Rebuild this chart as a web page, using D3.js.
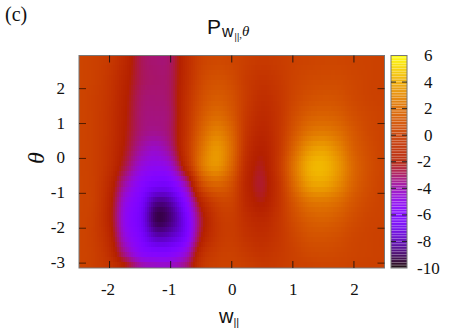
<!DOCTYPE html>
<html><head><meta charset="utf-8">
<script src="https://cdn.jsdelivr.net/npm/d3@7"></script>
<style>html,body{margin:0;padding:0;background:#fff}svg{display:block}
svg text.serif, svg tspan.serif{font-family:'Times New Roman','Liberation Serif',Tinos,Times,serif}
svg text.sans, svg tspan.sans{font-family:'Liberation Sans',Arial,sans-serif}
</style>
</head><body><svg id="c" width="463" height="330"></svg>
<script>
const wValues=[-2.5,-2.25,-2,-1.75,-1.5,-1.25,-1,-0.75,-0.5,-0.25,0,0.25,0.5,0.75,1,1.25,1.5,1.75,2,2.25,2.5];
const thetaValues=[2.95,2.25,1.75,1.25,0.75,0.25,-0.25,-0.75,-1.25,-1.75,-2.25,-2.75,-3.14];
const row295=[.3,.1,-.3,-1.3,-2.8,-3.2,-3,-1.2,.1,.4,.3,0,-.2,-.1,.1,.2,.3,.3,.2,.2,.1];
const row225=[.3,.1,-.5,-1.6,-2.8,-3.1,-2.9,-1.1,.4,.9,.6,-.2,-.6,-.3,.2,.5,.6,.6,.4,.2,.1];
const row175=[.3,0,-.6,-1.8,-3,-3.2,-2.9,-.9,.7,1.3,.9,-.2,-.9,-.5,.3,.8,1,.9,.5,.2,.1];
const row125=[.3,0,-.7,-1.9,-3.1,-3.3,-3,-.8,1.1,1.9,1.2,-.4,-1.2,-.6,.6,1.4,1.6,1.4,.8,.4,.2];
const row075=[.3,0,-.7,-2,-3.2,-3.5,-3,-.7,1.6,2.7,1.7,-.6,-1.5,-.6,1,2.2,2.5,2.1,1.2,.5,.2];
const row025=[.3,0,-.8,-2.2,-3.7,-4.3,-3.4,-.6,2.1,3.4,2,-.9,-1.9,-.6,1.6,3.3,3.7,2.9,1.5,.7,.2];
const rowM025=[.3,0,-.9,-2.7,-4.5,-5.1,-4.5,-1.3,2.2,3.3,1.7,-1.3,-2.2,-.5,2.1,4,4.3,3.4,1.8,.8,.3];
const rowM075=[.3,0,-1.3,-3.8,-5.5,-6.4,-6.2,-3.8,.5,1.7,.8,-1.6,-2.4,-.8,1.7,3.5,3.8,3,1.6,.7,.2];
const rowM125=[.3,0,-1.6,-4.7,-6.2,-8.4,-8.1,-5.6,-1.6,.1,.2,-1.4,-2.1,-.8,1,2.2,2.4,2,1.1,.5,.2];
const rowM175=[.3,-.1,-1.7,-5,-6.5,-9.1,-8.7,-6.5,-2.6,-.5,-.1,-1,-1.4,-.6,.6,1.4,1.6,1.3,.7,.3,.2];
const rowM225=[.3,-.1,-1.4,-4.6,-6.1,-7.9,-7.7,-6.2,-2.2,-.5,-.1,-.7,-1,-.5,.3,.9,1,.8,.4,.2,.1];
const rowM275=[.3,0,-1,-3.5,-5.3,-5.8,-5.7,-4.5,-1.1,-.1,.1,-.3,-.6,-.3,.1,.5,.6,.5,.3,.2,.1];
const rowM314=[.3,0,-.6,-1.9,-3.6,-4.1,-4.1,-3.2,-.6,.1,.2,0,-.3,-.2,.1,.2,.3,.3,.2,.1,.1];
const zRows=[row295,row225,row175,row125,row075,row025,rowM025,rowM075,rowM125,rowM175,rowM225,rowM275,rowM314];
const xTicks=[-2,-1,0,1,2];
const yTicks=[-3,-2,-1,0,1,2];
const cbTicks=[6,4,2,0,-2,-4,-6,-8,-10];

const L=79,R=384.5,T=55.5,B=268;
const svg=d3.select("#c");
const x=d3.scaleLinear().domain([-2.5,2.5]).range([L,R]);
const y=d3.scaleLinear().domain([-3.14,2.95]).range([B,T]);
const cb=d3.scaleLinear().domain([-10,6]).range([B,T]);
const palette=t=>{const c=v=>Math.round(255*Math.max(0,Math.min(1,v)));
  return `rgb(${c(Math.sqrt(t))},${c(t*t*t)},${c(Math.sin(2*Math.PI*t))})`;};
const color=d3.scaleSequential(palette).domain([-10,6]).clamp(true);

const ix=d3.scaleLinear().domain(wValues).range(wValues.map((_,i)=>i)).clamp(true);
const iy=d3.scaleLinear().domain(thetaValues).range(thetaValues.map((_,i)=>i)).clamp(true);
const cr=(a,b,c,d,t)=>0.5*(2*b+(c-a)*t+(2*a-5*b+4*c-d)*t*t+(3*b-a-3*c+d)*t*t*t);
const at=(arr,i)=>arr[Math.max(0,Math.min(arr.length-1,i))];
function sample(w,th){
  const fx=ix(w),fy=iy(th),i=Math.min(Math.floor(fx),wValues.length-2),j=Math.min(Math.floor(fy),thetaValues.length-2);
  const r=k=>{const row=at(zRows,k);return cr(at(row,i-1),at(row,i),at(row,i+1),at(row,i+2),fx-i);};
  return cr(r(j-1),r(j),r(j+1),r(j+2),fy-j);
}
const colW=2,nCols=Math.ceil((R-L)/colW),nRows=42;
const rowH=(B-T)/nRows;
const cells=[];
for(let r=0;r<nRows;r++)for(let c=0;c<nCols;c++){
  const px=L+c*colW,py=T+r*rowH;
  cells.push({px,py,w:x.invert(px+colW/2),t:y.invert(py+rowH/2)});
}
svg.append("g").attr("shape-rendering","crispEdges").selectAll("rect").data(cells).join("rect")
  .attr("x",d=>d.px).attr("y",d=>Math.floor(d.py))
  .attr("width",d=>Math.min(colW,R-d.px)).attr("height",d=>Math.min(Math.ceil(rowH)+1,B-Math.floor(d.py)))
  .attr("fill",d=>color(sample(d.w,d.t)));

const bx0=391,bx1=407,nStrips=80;
const strips=d3.range(nStrips).map(i=>-10+(i+0.5)*16/nStrips);
svg.append("g").selectAll("rect").data(strips).join("rect")
  .attr("x",bx0).attr("width",bx1-bx0)
  .attr("y",d=>cb(d)-(B-T)/nStrips/2).attr("height",(B-T)/nStrips*0.8)
  .attr("fill",d=>color(d)).attr("fill-opacity",0.93);
svg.append("g").selectAll("rect").data(strips).join("rect")
  .attr("x",bx0).attr("width",bx1-bx0)
  .attr("y",d=>cb(d)+(B-T)/nStrips*0.3).attr("height",(B-T)/nStrips*0.2)
  .attr("fill",d=>color(d)).attr("fill-opacity",0.7);

const frame=(a,b)=>svg.append("rect").attr("x",a).attr("y",T).attr("width",b-a).attr("height",B-T)
  .attr("fill","none").attr("stroke","#777").attr("stroke-width",1);
frame(L,R);frame(bx0,bx1);

const tick=svg.append("g").attr("stroke","#111").attr("stroke-width",1).attr("stroke-opacity",.85);
xTicks.forEach(v=>{
  tick.append("line").attr("x1",x(v)).attr("x2",x(v)).attr("y1",B).attr("y2",B-7);
  tick.append("line").attr("x1",x(v)).attr("x2",x(v)).attr("y1",T).attr("y2",T+7);
});
yTicks.forEach(v=>{
  tick.append("line").attr("x1",L).attr("x2",L+7).attr("y1",y(v)).attr("y2",y(v)).attr("stroke","#3a1500");
  tick.append("line").attr("x1",R).attr("x2",R-7).attr("y1",y(v)).attr("y2",y(v)).attr("stroke","#3a1500");
});
cbTicks.filter(v=>v!==6&&v!==-10).forEach(v=>{
  tick.append("line").attr("x1",bx0).attr("x2",bx0+5).attr("y1",cb(v)).attr("y2",cb(v));
  tick.append("line").attr("x1",bx1).attr("x2",bx1-5).attr("y1",cb(v)).attr("y2",cb(v));
});

const txt=(s,a,b,size,anchor)=>svg.append("text").text(s).attr("x",a).attr("y",b).attr("class","serif")
  .attr("font-size",size).attr("text-anchor",anchor||"middle").attr("fill","#111");
xTicks.forEach(v=>txt(String(v),x(v)-(v<0?1.5:-0.5),295,17));
yTicks.forEach(v=>txt(String(v),65,y(v)+5,17,"end"));
cbTicks.forEach(v=>txt(String(v),v<0?417:424,cb(v)+5.5,17,"start"));
txt("(c)",5,21,20,"start");

const title=svg.append("text").attr("x",207).attr("y",34).attr("class","sans").attr("fill","#111");
title.append("tspan").text("P").attr("font-size",21);
title.append("tspan").text("w").attr("font-size",16).attr("dy",3).attr("dx",1);
title.append("tspan").text("||").attr("font-size",9).attr("dy",3).attr("dx",1);
title.append("tspan").text(",").attr("font-size",11).attr("dy",-2).attr("class","serif");
title.append("tspan").text("θ").attr("font-size",15).attr("dy",-2).attr("font-style","italic").attr("class","serif");

const xl=svg.append("text").attr("x",219).attr("y",323).attr("class","sans").attr("fill","#111");
xl.append("tspan").text("w").attr("font-size",20);
xl.append("tspan").text("||").attr("font-size",11).attr("dy",3);

svg.append("text").text("θ").attr("transform","translate(44,158) rotate(-90)").attr("class","serif")
  .attr("text-anchor","middle").attr("font-size",24).attr("font-style","italic").attr("fill","#111");
</script></body></html>
